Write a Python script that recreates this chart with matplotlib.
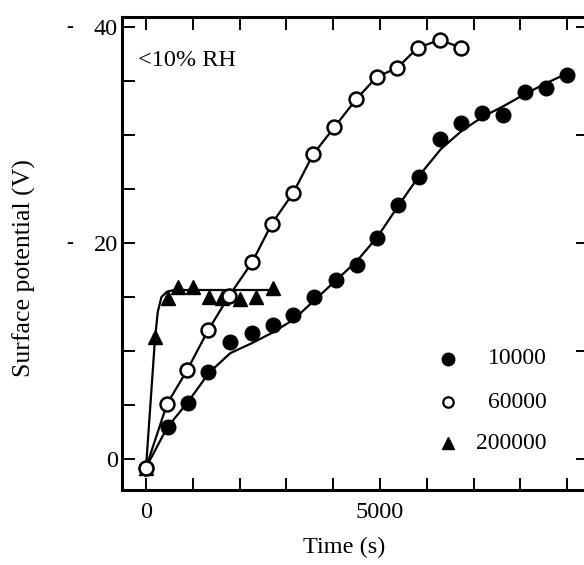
import matplotlib
matplotlib.use("Agg")
import matplotlib.pyplot as plt
from matplotlib.ticker import FixedLocator

plt.rcParams["font.family"] = ["Liberation Serif", "DejaVu Serif"]

# 10000 (filled circles)
t_10k = [0, 470, 900, 1325, 1795, 2265, 2715, 3140, 3590, 4060, 4510,
         4935, 5385, 5835, 6280, 6730, 7180, 7630, 8100, 8545, 8995]
v_10k = [-0.8, 3.0, 5.2, 8.1, 10.8, 11.7, 12.4, 13.3, 15.0, 16.6, 18.0,
         20.5, 23.5, 26.1, 29.6, 31.1, 32.0, 31.9, 34.0, 34.4, 35.6]
# fitted curve through the 10000 points
fit_t_10k = [0, 450, 900, 1350, 1800, 2250, 2700, 3150, 3600, 4050, 4500,
             4950, 5400, 5850, 6300, 6750, 7200, 7650, 8100, 8550, 9000]
fit_v_10k = [-0.8, 2.9, 5.3, 8.0, 9.8, 10.7, 11.7, 12.9, 14.7, 16.5, 18.3,
             20.6, 23.5, 26.3, 28.7, 30.4, 31.7, 32.7, 33.8, 34.8, 35.7]

# 60000 (open circles)
t_60k = [0, 450, 875, 1325, 1775, 2265, 2690, 3140, 3570, 4020, 4490,
         4935, 5365, 5810, 6280, 6730]
v_60k = [-0.8, 5.1, 8.2, 11.9, 15.1, 18.2, 21.8, 24.6, 28.2, 30.7, 33.3,
         35.4, 36.2, 38.1, 38.8, 38.1]

# 200000 (triangles)
t_200k = [0, 190, 470, 685, 1005, 1345, 1625, 2010, 2350, 2715]
v_200k = [-0.8, 11.3, 14.9, 15.9, 15.9, 15.0, 14.9, 14.8, 15.0, 15.8]
fit_t_200k = [0, 190, 250, 330, 450, 600, 2750]
fit_v_200k = [-0.8, 11.0, 13.6, 15.0, 15.5, 15.65, 15.65]

legend_labels = ["10000", "60000", "200000"]
y_major = [0, 10, 20, 30, 40]
y_major_labels = ["0", "", "20", "", "40"]
y_minor = [5, 15, 25, 35]

fig = plt.figure(figsize=(5.84, 5.65), dpi=100)
ax = fig.add_axes([122 / 584, 1 - 490 / 565, (588 - 122) / 584, (490 - 17) / 565])

# curves
ax.plot(fit_t_10k, fit_v_10k, color="black", lw=1.6, zorder=2)
ax.plot(fit_t_200k, fit_v_200k, color="black", lw=1.6, zorder=2)
ax.plot(t_60k, v_60k, color="black", lw=1.6, zorder=2)

# markers
ax.plot(t_10k, v_10k, ls="none", marker="o", ms=10.5, mfc="black",
        mec="black", zorder=3)
ax.plot(t_200k, v_200k, ls="none", marker="^", ms=10, mfc="black",
        mec="black", zorder=4)
ax.plot(t_60k, v_60k, ls="none", marker="o", ms=10, mfc="white",
        mec="black", mew=1.8, zorder=5)

ax.set_xlim(-513, 9445)
ax.set_ylim(-2.87, 40.93)

for side in ["left", "bottom", "top", "right"]:
    ax.spines[side].set_linewidth(2.2)

ax.set_xticks(range(0, 10000, 1000))
ax.set_xticklabels(["0", "", "", "", "", "5000", "", "", "", ""])
ax.set_yticks(y_major)
ax.set_yticklabels(y_major_labels)
ax.yaxis.set_minor_locator(FixedLocator(y_minor))
ax.tick_params(axis="x", direction="in", length=9, width=1.4,
               labelsize=17.5, bottom=True, top=True, pad=9)
# major y ticks on both sides, the 5 V ticks only on the left
ax.tick_params(axis="y", which="major", direction="in", length=9, width=1.4,
               labelsize=17.5, left=True, right=True, pad=3)
ax.tick_params(axis="y", which="minor", direction="in", length=9, width=1.4,
               left=True, right=False)

ax.set_xlabel("Time (s)", fontsize=17.5)
ax.xaxis.set_label_coords(0.4775, -0.1)
ax.set_ylabel("Surface potential (V)", fontsize=18.5)
ax.yaxis.set_label_coords(-0.185, 0.469)

ax.text(0.034, 0.909, "<10% RH", transform=ax.transAxes, fontsize=17.5,
        va="center", ha="left")

# stray dashes beside the 40 and 20 labels
for yv in [40, 20]:
    ax.annotate("-", xy=(0, yv), xycoords=("axes fraction", "data"),
                xytext=(-52, 0), textcoords="offset pixels",
                fontsize=15, ha="center", va="center")

# legend drawn by hand so the labels are right aligned
leg_y = [0.277, 0.186, 0.099]
ax.plot(0.6996, leg_y[0], transform=ax.transAxes, marker="o", ms=9,
        mfc="black", mec="black", clip_on=False)
ax.plot(0.6996, leg_y[1], transform=ax.transAxes, marker="o", ms=7.5,
        mfc="white", mec="black", mew=1.6, clip_on=False)
ax.plot(0.6996, leg_y[2], transform=ax.transAxes, marker="^", ms=8.5,
        mfc="black", mec="black", clip_on=False)
for lab, yy in zip(legend_labels, leg_y):
    ax.text(0.912, yy, lab, transform=ax.transAxes, fontsize=17,
            ha="right", va="center")

fig.savefig("out.png", dpi=100)
